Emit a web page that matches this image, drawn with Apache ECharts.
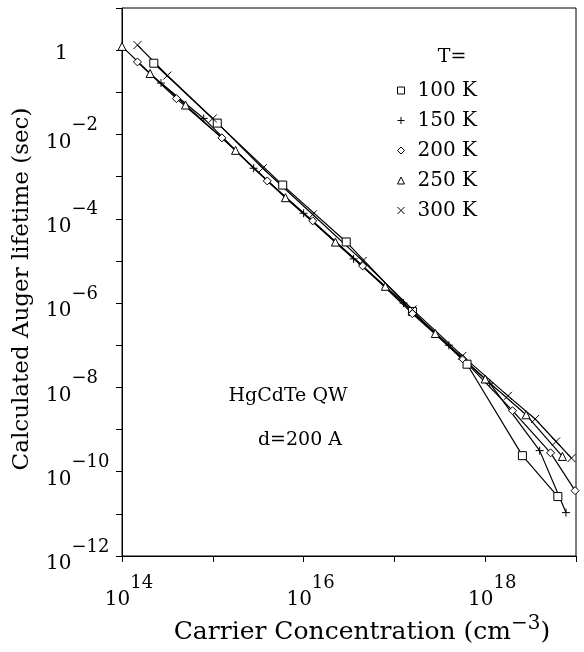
<!DOCTYPE html>
<html>
<head>
<meta charset="utf-8">
<script src="https://cdn.jsdelivr.net/npm/echarts@6/dist/echarts.min.js"></script>
<style>
html,body{margin:0;padding:0;background:#fff;}
#chart{width:584px;height:652px;}
</style>
</head>
<body>
<div id="chart"></div>
<script>
// Carrier concentration (cm^-3) and Auger lifetime (sec) per temperature
const seriesNames = ['100 K', '150 K', '200 K', '250 K', '300 K'];

const n100 = [2.24e14, 1.12e15, 5.89e15, 2.95e16, 1.58e17, 6.31e17, 2.57e18, 6.31e18];
const t100 = [0.49, 1.86e-2, 6.3e-4, 2.82e-5, 6.3e-7, 3.55e-8, 2.4e-10, 2.57e-11];

const n150 = [2.69e14, 7.94e14, 2.82e15, 1.0e16, 3.55e16, 1.26e17, 3.98e17, 1.12e18, 3.98e18, 7.76e18];
const t150 = [0.166, 2.4e-2, 1.58e-3, 1.35e-4, 1.12e-5, 1.0e-6, 1.0e-7, 1.26e-8, 3.16e-10, 1.07e-11];

const n200 = [1.48e14, 3.98e14, 1.26e15, 3.98e15, 1.26e16, 4.47e16, 1.58e17, 5.62e17, 2.0e18, 5.25e18, 9.77e18];
const t200 = [0.525, 7.08e-2, 8.3e-3, 7.9e-4, 8.9e-5, 7.6e-6, 5.6e-7, 4.8e-8, 2.8e-9, 2.8e-10, 3.55e-11];

const n250 = [1.0e14, 2.04e14, 5.01e14, 1.78e15, 6.31e15, 2.24e16, 7.94e16, 2.82e17, 1.0e18, 2.82e18, 7.08e18];
const t250 = [1.23, 0.28, 5.0e-2, 4.2e-3, 3.16e-4, 2.8e-5, 2.5e-6, 1.9e-7, 1.58e-8, 2.24e-9, 2.3e-10];

const n300 = [1.48e14, 3.16e14, 1.0e15, 3.55e15, 1.26e16, 4.47e16, 1.58e17, 5.62e17, 1.78e18, 3.55e18, 6.03e18, 8.91e18];
const t300 = [1.32, 0.25, 2.4e-2, 1.58e-3, 1.26e-4, 1.0e-5, 7.1e-7, 5.6e-8, 6.3e-9, 1.78e-9, 5.2e-10, 2.1e-10];

const xTickExponents = [14, 16, 18];
const yTickExponents = [0, -2, -4, -6, -8, -10, -12];

const symbols = [
  'path://M0,0H10V10H0Z',
  'path://M5,0V10M0,5H10',
  'path://M5,0L10,5L5,10L0,5Z',
  'path://M5,0L10,10H0Z',
  'path://M0,0L10,10M10,0L0,10'
];

const FONT = 'DejaVu Serif';
const chart = echarts.init(document.getElementById('chart'));

function pairs(xs, ys) { return xs.map((x, i) => [x, ys[i]]); }
const allData = [pairs(n100, t100), pairs(n150, t150), pairs(n200, t200), pairs(n250, t250), pairs(n300, t300)];

const series = seriesNames.map((name, i) => ({
  name: name,
  type: 'line',
  data: allData[i],
  symbol: symbols[i],
  symbolSize: 8,
  showAllSymbol: true,
  lineStyle: { color: '#000', width: 1.2 },
  itemStyle: { color: '#fff', borderColor: '#000', borderWidth: 1 },
  emphasis: { disabled: true },
  animation: false
}));

function supLabel(exp) {
  return '{b|10}{s|' + (exp < 0 ? '\u2212' + (-exp) : String(exp)) + '}';
}

chart.setOption({
  animation: false,
  grid: { left: 122, right: 8, top: 8, bottom: 96, show: true, borderColor: '#000', borderWidth: 1, backgroundColor: 'transparent' },
  legend: {
    orient: 'vertical',
    left: 392,
    top: 75,
    itemWidth: 7,
    itemHeight: 7,
    itemGap: 9,
    selectedMode: false,
    data: seriesNames.map((n, i) => ({ name: n, icon: symbols[i], itemStyle: { color: '#fff', borderColor: '#000', borderWidth: 1 } })),
    textStyle: { fontFamily: FONT, fontSize: 20, color: '#000', padding: [0, 0, 0, 8], lineHeight: 21 }
  },
  xAxis: {
    type: 'log',
    logBase: 10,
    min: 1e14,
    max: 1e19,
    interval: 1,
    axisLine: { show: true, lineStyle: { color: '#000', width: 1 } },
    axisTick: { show: true, inside: false, length: 6, lineStyle: { color: '#000' } },
    splitLine: { show: false },
    axisLabel: {
      margin: 18,
      formatter: function (v) {
        const e = Math.round(Math.log10(v));
        return xTickExponents.indexOf(e) >= 0 ? supLabel(e) : '';
      },
      rich: {
        b: { fontFamily: FONT, fontSize: 20, color: '#000', lineHeight: 36, verticalAlign: 'bottom', padding: [0, 0, 0, 14] },
        s: { fontFamily: FONT, fontSize: 18, color: '#000', lineHeight: 36, verticalAlign: 'top' }
      }
    }
  },
  yAxis: {
    type: 'log',
    logBase: 10,
    min: 1e-12,
    max: 10,
    interval: 1,
    axisLine: { show: true, lineStyle: { color: '#000', width: 1 } },
    axisTick: { show: true, inside: false, length: 6, lineStyle: { color: '#000' } },
    splitLine: { show: false },
    axisLabel: {
      margin: 76,
      align: 'left',
      formatter: function (v) {
        const e = Math.round(Math.log10(v));
        if (yTickExponents.indexOf(e) < 0) return '';
        if (e === 0) return '{o|1}';
        return supLabel(e);
      },
      rich: {
        b: { fontFamily: FONT, fontSize: 20, color: '#000', lineHeight: 36, verticalAlign: 'bottom' },
        s: { fontFamily: FONT, fontSize: 18, color: '#000', lineHeight: 36, verticalAlign: 'top' },
        o: { fontFamily: FONT, fontSize: 20, color: '#000', lineHeight: 20, padding: [8, 0, 0, 9] }
      }
    }
  },
  graphic: [
    {
      type: 'text', x: 22, y: 289, rotation: Math.PI / 2,
      style: { text: 'Calculated Auger lifetime (sec)', fontFamily: FONT, fontSize: 23, fill: '#000', textAlign: 'center', textVerticalAlign: 'middle' }
    },
    {
      type: 'text', x: 362, y: 632,
      style: {
        text: 'Carrier Concentration (cm{s|\u22123})', fontFamily: FONT, fontSize: 25, fill: '#000',
        textAlign: 'center', textVerticalAlign: 'middle',
        rich: { s: { fontFamily: FONT, fontSize: 20, fill: '#000', padding: [0, 0, 16, 0] } }
      }
    },
    {
      type: 'text', x: 452, y: 57,
      style: { text: 'T=', fontFamily: FONT, fontSize: 19, fill: '#000', textAlign: 'center', textVerticalAlign: 'middle' }
    },
    {
      type: 'text', x: 288, y: 396,
      style: { text: 'HgCdTe QW', fontFamily: FONT, fontSize: 19, fill: '#000', textAlign: 'center', textVerticalAlign: 'middle' }
    },
    {
      type: 'text', x: 300, y: 440,
      style: { text: 'd=200 A', fontFamily: FONT, fontSize: 19, fill: '#000', textAlign: 'center', textVerticalAlign: 'middle' }
    }
  ],
  series: series
});
</script>
</body>
</html>
